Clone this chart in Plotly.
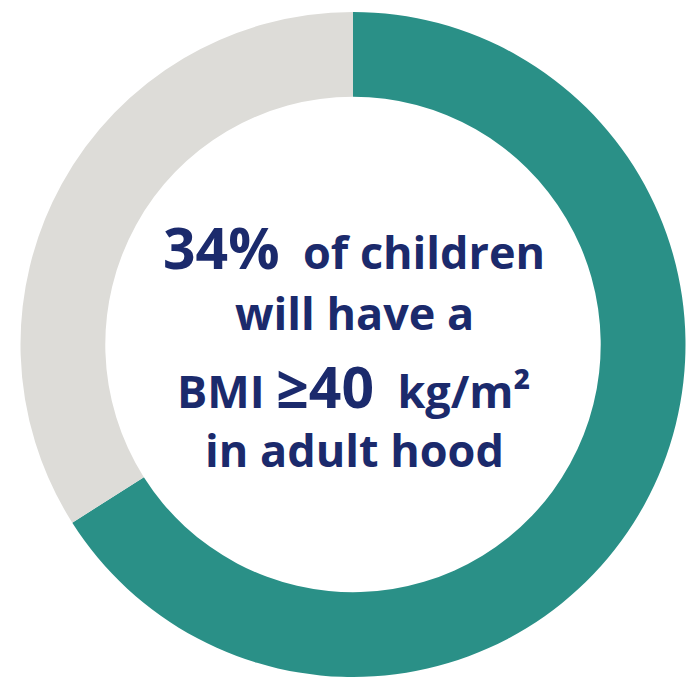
import plotly.graph_objects as go

# Share of children, split into the two ring segments
segments = ["Other", "BMI ≥40 kg/m² in adulthood"]
shares = [66, 34]
colors = ["#2A9087", "#DDDCD8"]

navy = "#1B2A6C"
font_family = "Open Sans"

# Centre statement, one entry per line
lines = [
    "<span style='font-size:57px'>34%</span>  of children",
    "will have a",
    "BMI <span style='font-size:57px'>≥40</span>  kg/m²",
    "in adult hood",
]
line_y = [247, 313, 386, 449]  # pixel rows from the top

W, H = 692, 677

fig = go.Figure(
    go.Pie(
        labels=segments,
        values=shares,
        hole=0.745,
        sort=False,
        direction="clockwise",
        rotation=0,
        marker=dict(colors=colors, line=dict(width=0)),
        textinfo="none",
        hoverinfo="label+percent",
        showlegend=False,
        domain=dict(x=[(353 - 333) / W, (353 + 333) / W], y=[0, 1 - 12 / H]),
    )
)

for txt, yp in zip(lines, line_y):
    fig.add_annotation(
        x=354 / W,
        y=1 - yp / H,
        xref="paper",
        yref="paper",
        text=txt,
        showarrow=False,
        xanchor="center",
        yanchor="middle",
        font=dict(family=font_family, size=45, color=navy, weight=700),
    )

fig.update_layout(
    width=W,
    height=H,
    margin=dict(l=0, r=0, t=0, b=0),
    paper_bgcolor="white",
    plot_bgcolor="white",
)

fig.write_html("out.html")
